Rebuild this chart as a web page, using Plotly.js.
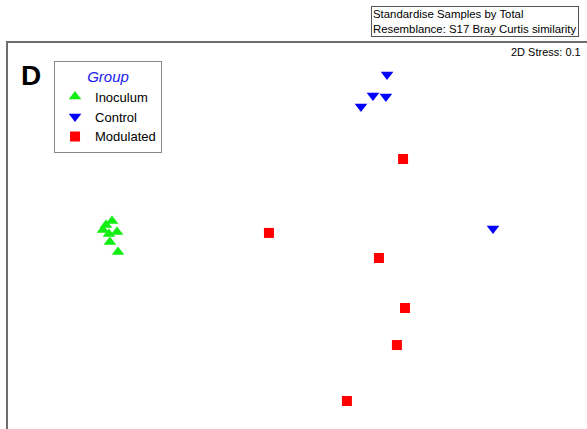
<!DOCTYPE html>
<html>
<head>
<meta charset="utf-8">
<script src="https://cdn.plot.ly/plotly-3.0.1.min.js"></script>
<style>html,body{margin:0;padding:0;background:#fff;}#chart{width:587px;height:429px;}</style>
</head>
<body>
<div id="chart"></div>
<script>
// NMDS coordinates
const inoculumX = [-0.961, -0.992, -1.008, -0.935, -0.977, -0.972, -0.930];
const inoculumY = [0.078, 0.057, 0.031, 0.021, 0.010, -0.031, -0.083];
const controlX = [0.464, 0.391, 0.458, 0.329, 1.013];
const controlY = [0.837, 0.728, 0.723, 0.671, 0.039];
const modulatedX = [0.547, -0.148, 0.422, 0.557, 0.515, 0.256];
const modulatedY = [0.399, 0.016, -0.114, -0.373, -0.565, -0.855];
const groupNames = ["Inoculum", "Control", "Modulated"];
const infoLines = ["Standardise Samples by Total", "Resemblance: S17 Bray Curtis similarity"];
const stressText = "2D Stress: 0.1";
const panelLabel = "D";

const FONT = "Liberation Sans, Arial, sans-serif";

const traces = [
  {x: inoculumX, y: inoculumY, name: groupNames[0], type: "scatter", mode: "markers",
   marker: {symbol: "triangle-up", size: 11, color: "#11ee11"}},
  {x: controlX, y: controlY, name: groupNames[1], type: "scatter", mode: "markers",
   marker: {symbol: "triangle-down", size: 11, color: "#0000ff"}},
  {x: modulatedX, y: modulatedY, name: groupNames[2], type: "scatter", mode: "markers",
   marker: {symbol: "square", size: 10, color: "#ff0000"}}
];

const layout = {
  width: 587, height: 429,
  margin: {l: 8, r: 0, t: 43, b: 0, pad: 0},
  paper_bgcolor: "#ffffff", plot_bgcolor: "#ffffff",
  font: {family: FONT, size: 14, color: "#000"},
  xaxis: {range: [-1.5, 1.5], side: "top", showline: true, linecolor: "#6e6e6e", linewidth: 2,
          showgrid: false, zeroline: false, showticklabels: false, ticks: "", fixedrange: true},
  yaxis: {range: [-1, 1], side: "left", showline: true, linecolor: "#6e6e6e", linewidth: 2,
          showgrid: false, zeroline: false, showticklabels: false, ticks: "", fixedrange: true},
  showlegend: true,
  legend: {
    x: 0.0795, y: 0.953, xanchor: "left", yanchor: "top",
    bgcolor: "#ffffff", bordercolor: "#888888", borderwidth: 1,
    font: {family: FONT, size: 13, color: "#000"},
    title: {text: "<i>Group</i>", side: "top center", font: {family: FONT, size: 15, color: "#1a1aee"}},
    tracegroupgap: 0, itemwidth: 30
  },
  annotations: [
    {text: "<b>" + panelLabel + "</b>", xref: "paper", yref: "paper", x: 0.0397, y: 0.917,
     xanchor: "center", yanchor: "middle", showarrow: false, font: {family: FONT, size: 28, color: "#000"}},
    {text: infoLines.join("<br>"), xref: "paper", yref: "paper", x: 0.6278, y: 1.015,
     xanchor: "left", yanchor: "bottom", align: "left", showarrow: false,
     font: {family: FONT, size: 11.4, color: "#000"}, bordercolor: "#555", borderwidth: 1,
     borderpad: 1, bgcolor: "#fff"},
    {text: stressText, xref: "paper", yref: "paper", x: 0.993, y: 0.976,
     xanchor: "right", yanchor: "middle", showarrow: false, font: {family: FONT, size: 11, color: "#000"}}
  ]
};

Plotly.newPlot("chart", traces, layout, {displayModeBar: false, staticPlot: true});
</script>
</body>
</html>
